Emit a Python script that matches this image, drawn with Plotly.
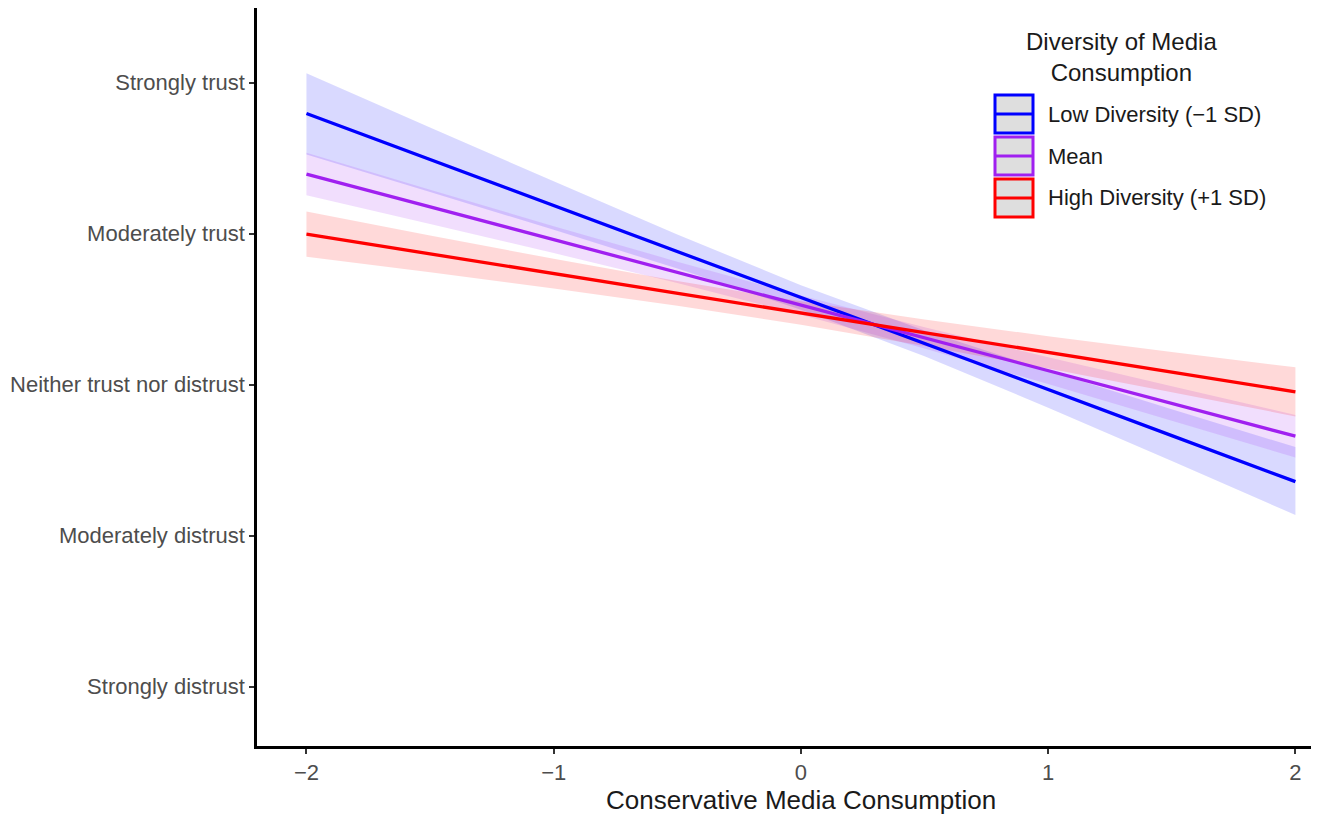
import plotly.graph_objects as go

# ---- data ----
x_points = [-2.0, -1.5, -1.0, -0.5, 0.0, 0.5, 1.0, 1.5, 2.0]

low_fit   = [4.796, 4.492, 4.188, 3.883, 3.578, 3.273, 2.968, 2.663, 2.358]
low_upper = [5.063, 4.704, 4.347, 3.995, 3.659, 3.359, 3.092, 2.837, 2.587]
low_lower = [4.525, 4.276, 4.026, 3.769, 3.497, 3.189, 2.848, 2.495, 2.137]

mean_fit   = [4.395, 4.178, 3.961, 3.744, 3.527, 3.310, 3.093, 2.876, 2.659]
mean_upper = [4.536, 4.292, 4.050, 3.815, 3.590, 3.381, 3.182, 2.990, 2.800]
mean_lower = [4.254, 4.064, 3.872, 3.673, 3.464, 3.239, 3.004, 2.762, 2.518]

high_fit   = [3.997, 3.866, 3.736, 3.605, 3.475, 3.344, 3.214, 3.083, 2.953]
high_upper = [4.147, 3.988, 3.834, 3.687, 3.552, 3.432, 3.321, 3.216, 3.115]
high_lower = [3.847, 3.744, 3.637, 3.523, 3.397, 3.257, 3.107, 2.950, 2.790]

series_names = ["Low Diversity (\u22121 SD)", "Mean", "High Diversity (+1 SD)"]
y_tick_values = [1, 2, 3, 4, 5]
y_tick_labels = ["Strongly distrust", "Moderately distrust", "Neither trust nor distrust",
                 "Moderately trust", "Strongly trust"]
x_tick_values = [-2, -1, 0, 1, 2]

x_title = "Conservative Media Consumption"
legend_title = "Diversity of Media<br>Consumption"

# ---- styling ----
colors = ["#0000FF", "#A020F0", "#FF0000"]
fills = ["rgba(0,0,255,0.15)", "rgba(160,32,240,0.15)", "rgba(255,0,0,0.15)"]
FONT = "Liberation Sans, Arial, sans-serif"

fits = [low_fit, mean_fit, high_fit]
uppers = [low_upper, mean_upper, high_upper]
lowers = [low_lower, mean_lower, high_lower]

fig = go.Figure()

for name, up, lo, fc in zip(series_names, uppers, lowers, fills):
    fig.add_trace(go.Scatter(
        x=x_points + x_points[::-1],
        y=up + lo[::-1],
        fill="toself", fillcolor=fc, mode="none",
        line=dict(width=0), hoverinfo="skip", showlegend=False, name=name))

for name, f, c in zip(series_names, fits, colors):
    fig.add_trace(go.Scatter(
        x=x_points, y=f, mode="lines", line=dict(color=c, width=3.3),
        showlegend=False, name=name))

# ---- layout geometry (page has an 8px body margin) ----
W, H = 1320, 815
ML, MR, MT, MB = 249, 17, 0, 77
PLOT_L, PLOT_B = ML + 8, H - MB + 8        # screen coords of plot-area corner
PLOT_W, PLOT_H = W - ML - MR, H - MT - MB

def px(xs):
    return (xs - PLOT_L) / PLOT_W

def py(ys):
    return (PLOT_B - ys) / PLOT_H

# ---- manual legend (ggplot style keys) ----
key_x0, key_x1 = 995, 1033
key_tops = [95, 137, 179]
key_h = 38

for name, c, top in zip(series_names, colors, key_tops):
    fig.add_shape(type="rect", xref="paper", yref="paper",
                  x0=px(key_x0), x1=px(key_x1), y0=py(top + key_h), y1=py(top),
                  fillcolor="#dedede", line=dict(color=c, width=3), layer="above")
    mid = top + key_h / 2
    fig.add_shape(type="line", xref="paper", yref="paper",
                  x0=px(key_x0 + 1), x1=px(key_x1 - 1), y0=py(mid), y1=py(mid),
                  line=dict(color=c, width=3), layer="above")
    fig.add_annotation(xref="paper", yref="paper", x=px(1046), y=py(mid),
                       text=name, showarrow=False, xanchor="left", yanchor="middle",
                       font=dict(family=FONT, size=22, color="#1a1a1a"))

fig.add_annotation(xref="paper", yref="paper", x=px(1121), y=py(57),
                   text=legend_title, showarrow=False, xanchor="center", yanchor="middle",
                   font=dict(family=FONT, size=24, color="#1a1a1a"))

# x axis title centred on x = 0 like the original panel
fig.add_annotation(xref="x", yref="paper", x=0.0, y=py(800),
                   text=x_title, showarrow=False, xanchor="center", yanchor="middle",
                   font=dict(family=FONT, size=26, color="#1a1a1a"))

fig.update_layout(
    width=W, height=H,
    margin=dict(l=ML, r=MR, t=MT, b=MB),
    paper_bgcolor="white", plot_bgcolor="white",
    font=dict(family=FONT),
    showlegend=False,
    xaxis=dict(range=[-2.2, 2.063], tickvals=x_tick_values,
               showgrid=False, zeroline=False,
               showline=True, linecolor="black", linewidth=2.5,
               ticks="outside", ticklen=5, tickwidth=2, tickcolor="#333333",
               tickfont=dict(family=FONT, size=22, color="#4d4d4d")),
    yaxis=dict(range=[0.607, 5.495], tickvals=y_tick_values, ticktext=y_tick_labels,
               showgrid=False, zeroline=False,
               showline=True, linecolor="black", linewidth=2.5,
               ticks="outside", ticklen=5, tickwidth=2, tickcolor="#333333",
               tickfont=dict(family=FONT, size=22, color="#4d4d4d")),
)

fig.write_html("out.html")
